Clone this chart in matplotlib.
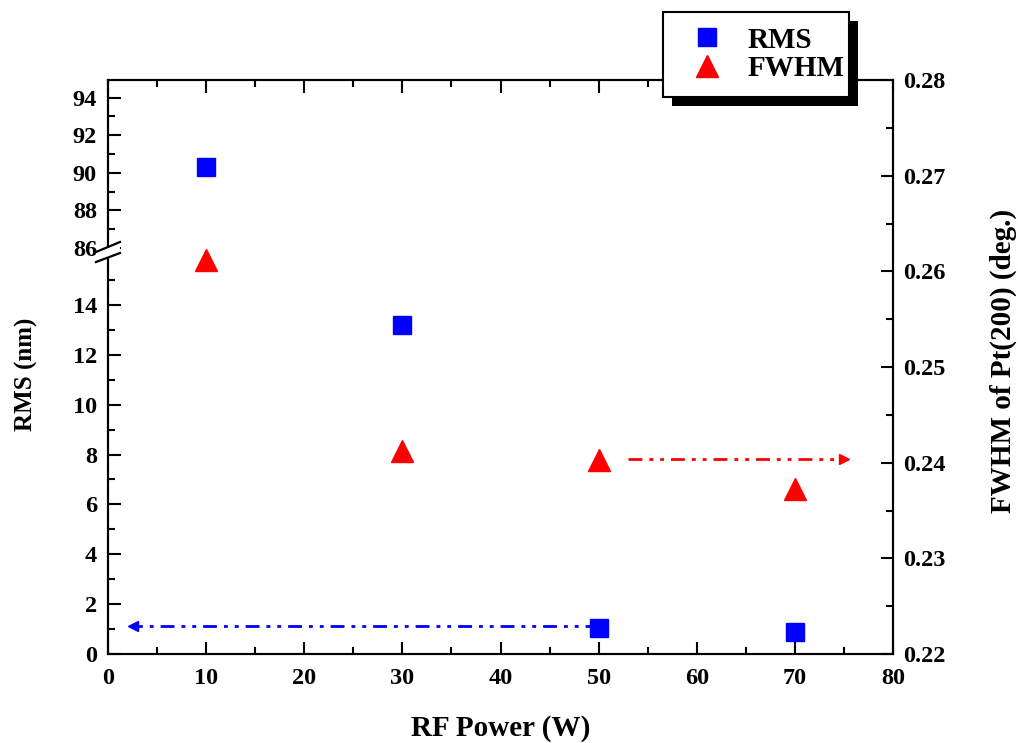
import numpy as np
import matplotlib
matplotlib.use("Agg")
import matplotlib.pyplot as plt
from matplotlib.lines import Line2D
from matplotlib.patches import Rectangle, Polygon
from matplotlib.transforms import IdentityTransform

# ---------------- data ----------------
rf_power = [10, 30, 50, 70]
rms_nm = [90.3, 13.2, 1.05, 0.9]
fwhm_deg = [0.2612, 0.2412, 0.2403, 0.2372]

x_ticks = [0, 10, 20, 30, 40, 50, 60, 70, 80]
rms_ticks = [0, 2, 4, 6, 8, 10, 12, 14, 86, 88, 90, 92, 94]
rms_minor = [1, 3, 5, 7, 9, 11, 13, 15, 87, 89, 91, 93]
fwhm_ticks = [0.22, 0.23, 0.24, 0.25, 0.26, 0.27, 0.28]

# guide arrows (x from, x to, y)
rms_arrow = [50, 2.5, 1.12]
fwhm_arrow = [53.0, 75.0, 0.2404]

# ---------------- style ----------------
plt.rcParams['font.family'] = ['Liberation Serif', 'DejaVu Serif']
plt.rcParams['font.weight'] = 'bold'
plt.rcParams['axes.labelweight'] = 'bold'

BLUE = '#0000ff'
RED = '#ff0000'

# broken-axis scale for the RMS axis
A = 24.94      # px per unit, lower segment
B = 18.8       # px per unit, upper segment
LOW_TOP = 16.0
UP_BOT = 85.63
P_BREAK = LOW_TOP * A


def fwd(y):
    y = np.asarray(y, dtype=float)
    return np.where(y <= LOW_TOP, y * A,
                    np.where(y >= UP_BOT, P_BREAK + (y - UP_BOT) * B,
                             P_BREAK + (y - LOW_TOP) * 1e-6))


def inv(p):
    p = np.asarray(p, dtype=float)
    return np.where(p <= P_BREAK, p / A, UP_BOT + (p - P_BREAK) / B)


fig = plt.figure(figsize=(10.18, 7.43), dpi=100)
ax = fig.add_axes([108 / 1018, 89 / 743, 785 / 1018, 574 / 743])
ax.set_yscale('function', functions=(fwd, inv))
ax.set_ylim(0, 94.94)
ax.set_xlim(0, 80)

ax2 = ax.twinx()
ax2.set_ylim(0.22, 0.28)

# markers
ax.plot(rf_power, rms_nm, linestyle='none', marker='s', markersize=13,
        color=BLUE, markeredgecolor=BLUE, zorder=5, clip_on=False)
ax2.plot(rf_power, fwhm_deg, linestyle='none', marker='^', markersize=16,
         color=RED, markeredgecolor=RED, zorder=5, clip_on=False)

# guide arrows
dash = (0, (5, 2.5, 1.4, 2.5, 1.4, 2.5))
ax.plot([rms_arrow[0], rms_arrow[1]], [rms_arrow[2], rms_arrow[2]],
        color=BLUE, lw=2, linestyle=dash, solid_capstyle='butt')
ax.plot([rms_arrow[1]], [rms_arrow[2]], marker='<', markersize=7,
        color=BLUE, linestyle='none')
ax2.plot([fwhm_arrow[0], fwhm_arrow[1]], [fwhm_arrow[2], fwhm_arrow[2]],
         color=RED, lw=2, linestyle=dash, solid_capstyle='butt')
ax2.plot([fwhm_arrow[1]], [fwhm_arrow[2]], marker='>', markersize=7,
         color=RED, linestyle='none')

# ticks
ax.set_xticks(x_ticks)
ax.set_xticks([v + 5 for v in x_ticks[:-1]], minor=True)
ax.set_yticks(rms_ticks)
ax.set_yticks(rms_minor, minor=True)
ax.set_yticklabels([str(v) for v in rms_ticks])
ax2.set_yticks(fwhm_ticks)
ax2.set_yticks([round(v + 0.005, 3) for v in fwhm_ticks[:-1]], minor=True)
ax2.set_yticklabels([f"{v:.2f}" for v in fwhm_ticks])

for a in (ax, ax2):
    for s in a.spines.values():
        s.set_linewidth(1.5)

TS = 17.5
ax.tick_params(axis='x', which='both', direction='in', top=True, bottom=True,
               labelsize=TS, pad=10, width=1.5)
ax.tick_params(axis='x', which='major', length=9)
ax.tick_params(axis='x', which='minor', length=5)
ax.tick_params(axis='y', which='both', direction='in', left=True, right=False,
               labelsize=TS, pad=8, width=1.5)
ax.tick_params(axis='y', which='major', length=9)
ax.tick_params(axis='y', which='minor', length=5)
ax2.tick_params(axis='y', which='both', direction='in', labelsize=TS, pad=7,
                width=1.5)
ax2.tick_params(axis='y', which='major', length=9)
ax2.tick_params(axis='y', which='minor', length=5)

# labels
ax.set_xlabel('RF Power (W)', fontsize=21, fontweight='bold')
ax.xaxis.set_label_coords(0.5, -0.106)
ax.set_ylabel('RMS (nm)', fontsize=18, fontweight='bold')
ax.yaxis.set_label_coords(-0.089, 0.488)
ax2.set_ylabel('FWHM of Pt(200) (deg.)', fontsize=21, fontweight='bold',
               rotation=90)
ax2.yaxis.set_label_coords(1.158, 0.51)
ax2.yaxis.label.set_rotation_mode('anchor')
ax2.yaxis.label.set_va('bottom')

# axis break marks
tr = IdentityTransform()
H = 743
brk_up = [(96, H - 252), (120, H - 242)]
brk_lo = [(96, H - 262), (120, H - 253)]
fig.add_artist(Polygon([brk_up[0], brk_up[1], brk_lo[1], brk_lo[0]],
                       closed=True, facecolor='white', edgecolor='none',
                       transform=tr, zorder=6))
for seg in (brk_up, brk_lo):
    fig.add_artist(Line2D([seg[0][0], seg[1][0]], [seg[0][1], seg[1][1]],
                          color='black', lw=1.6, transform=tr, zorder=7))

# legend
handles = [Line2D([], [], linestyle='none', marker='s', markersize=13,
                  color=BLUE),
           Line2D([], [], linestyle='none', marker='^', markersize=16,
                  color=RED)]
leg = fig.legend(handles, ['RMS', 'FWHM'],
                 bbox_to_anchor=(663 / 1018, 1 - 12 / 743 - 0.1, 186 / 1018, 0.1),
                 loc='upper left', mode='expand', borderaxespad=0,
                 fancybox=False, framealpha=1, edgecolor='black',
                 prop={'family': 'Liberation Serif', 'weight': 'bold', 'size': 21},
                 labelspacing=0.05, handletextpad=0.4, borderpad=0.5)
leg.get_frame().set_linewidth(1.5)
leg.set_zorder(10)

fig.canvas.draw()
bb = leg.get_window_extent()
fig.add_artist(Rectangle((bb.x0 + 9, bb.y0 - 9), bb.width, bb.height,
                         facecolor='black', edgecolor='none',
                         transform=tr, zorder=9))

fig.savefig('out.png', dpi=100)
